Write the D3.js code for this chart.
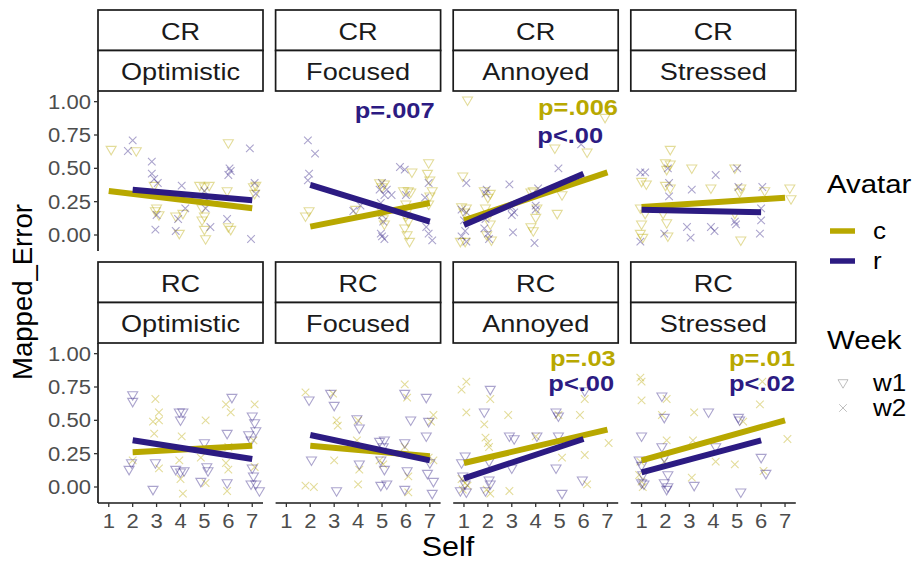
<!DOCTYPE html>
<html>
<head>
<meta charset="utf-8">
<script src="https://cdn.jsdelivr.net/npm/d3@7"></script>
<style>
  body { margin: 0; background: #fff; }
  svg { font-family: "Liberation Sans", Arial, sans-serif; display: block; }
</style>
</head>
<body>
<svg id="chart" width="917" height="564"></svg>
<script>
// facets
var orders = ["CR", "RC"];
var moods = ["Optimistic", "Focused", "Annoyed", "Stressed"];
var avatars = ["c", "r"];
var weeks = ["w1", "w2"];
var xTicks = [1, 2, 3, 4, 5, 6, 7];
var yTicks = [0, 0.25, 0.5, 0.75, 1];

// points [Self, Mapped_Error]
var crOptimisticC = [[1.1,0.64],[2.15,0.63],[2.9,0.37],[3.0,0.2],[3.1,0.15],[2.95,0.18],[3.8,0.14],[3.95,0.01],[4.1,0.16],[4.8,0.37],[5.0,0.36],[5.2,0.37],[4.9,0.2],[5.0,0.14],[4.9,0.11],[5.0,0.04],[5.05,-0.03],[6.0,0.69],[5.95,0.33],[6.0,0.06],[6.1,0.04],[7.05,0.36],[7.15,0.37],[7.1,0.31]];
var crOptimisticR = [[2.0,0.71],[1.8,0.63],[2.8,0.55],[2.8,0.46],[2.9,0.42],[3.05,0.39],[3.0,0.15],[2.95,0.04],[4.05,0.37],[3.8,0.03],[4.2,0.2],[3.9,0.12],[5.0,0.33],[5.1,0.27],[5.05,0.2],[5.25,0.06],[6.05,0.5],[6.1,0.48],[6.0,0.45],[5.95,0.12],[6.9,0.65],[7.1,0.39],[7.15,0.31],[6.95,-0.03]];
var crFocusedC = [[1.8,0.14],[1.95,0.18],[3.9,0.19],[4.9,0.39],[5.0,0.36],[5.1,0.38],[5.0,0.18],[5.05,0.12],[5.1,0.08],[5.9,0.33],[6.1,0.33],[6.2,0.32],[6.0,0.23],[6.1,0.19],[6.0,0.14],[6.1,0.1],[5.95,0.05],[6.05,0.0],[6.15,-0.05],[6.25,0.47],[6.95,0.54],[6.9,0.46],[7.0,0.41],[7.1,0.33],[7.0,0.29],[6.95,0.23]];
var crFocusedR = [[1.9,0.71],[2.2,0.61],[1.95,0.46],[1.9,0.41],[3.8,0.18],[4.1,0.22],[4.9,0.34],[5.0,0.39],[5.1,0.3],[4.95,0.24],[5.0,0.15],[5.05,0.1],[4.95,0.01],[5.0,-0.01],[5.1,-0.03],[5.2,0.34],[5.4,0.3],[5.75,0.51],[5.95,0.49],[6.0,0.3],[6.95,0.39],[6.85,0.06],[6.95,0.01],[7.1,-0.04],[6.8,0.28]];
var crAnnoyedC = [[1.15,1.01],[0.95,0.44],[0.9,0.21],[1.0,0.17],[1.1,0.2],[0.85,-0.05],[1.05,-0.05],[1.85,0.33],[2.1,0.31],[2.0,0.28],[1.9,0.2],[2.05,0.15],[2.1,0.08],[2.15,-0.04],[1.95,0.0],[3.8,0.32],[3.9,0.33],[4.05,0.2],[4.0,0.13],[3.8,0.06],[3.9,0.03],[4.8,0.65],[4.9,0.16],[5.1,0.3],[6.15,0.62],[6.9,0.88]];
var crAnnoyedR = [[1.1,0.39],[0.9,0.19],[1.1,0.17],[1.0,0.11],[1.05,0.03],[1.1,-0.05],[0.9,-0.01],[1.9,0.31],[1.95,0.34],[1.9,0.12],[1.85,0.05],[2.0,0.01],[2.05,-0.03],[2.9,0.38],[3.0,0.15],[3.1,0.17],[3.0,0.21],[3.05,0.02],[4.0,0.22],[4.1,0.35],[4.0,0.19],[3.95,-0.06],[4.95,0.5],[5.9,0.68]];
var crStressedC = [[2.2,0.64],[2.0,0.54],[2.2,0.53],[2.05,0.49],[3.1,0.5],[4.9,0.5],[1.0,0.4],[1.2,0.38],[0.95,0.2],[1.15,0.16],[1.0,0.08],[0.95,0.01],[1.05,-0.02],[2.0,0.37],[2.2,0.35],[1.9,0.16],[2.05,0.09],[2.1,-0.01],[3.9,0.35],[5.15,0.35],[5.1,0.32],[4.9,0.16],[5.15,-0.04],[6.15,0.33],[7.2,0.35],[7.25,0.27]];
var crStressedR = [[0.95,0.47],[1.15,0.47],[0.95,-0.05],[2.1,0.5],[2.15,0.39],[2.15,0.29],[1.95,0.01],[3.1,0.34],[2.9,0.06],[3.05,-0.02],[4.1,0.45],[3.9,0.06],[4.05,0.03],[5.0,0.5],[5.05,0.36],[6.05,0.36],[6.0,0.2],[6.0,0.11],[5.95,0.01],[4.9,0.1],[4.95,0.08]];
var rcOptimisticC = [[2.0,0.2],[2.95,0.66],[3.1,0.56],[3.1,0.5],[2.85,0.49],[2.9,0.4],[3.1,0.14],[4.05,0.38],[3.95,0.2],[4.0,0.06],[4.1,-0.05],[5.05,0.5],[4.85,0.22],[5.05,0.03],[5.9,0.62],[6.1,0.56],[5.9,0.18],[6.0,0.13],[5.95,-0.03],[7.1,0.62],[7.05,0.35],[7.1,0.15],[6.0,0.3]];
var rcOptimisticR = [[2.0,0.69],[2.0,0.64],[1.85,0.13],[1.95,0.18],[2.85,-0.02],[2.95,0.18],[3.95,0.56],[4.1,0.56],[4.0,0.5],[3.8,0.13],[4.0,0.11],[4.15,0.12],[4.85,0.04],[5.0,0.33],[5.1,0.15],[5.15,0.12],[5.95,0.4],[6.15,0.67],[5.95,0.03],[7.0,0.53],[7.1,0.48],[7.15,0.42],[6.85,0.39],[6.95,0.35],[7.0,0.14],[7.05,0.08],[7.15,0.02],[6.95,0.02],[7.3,-0.03]];
var rcFocusedC = [[1.8,0.71],[1.8,0.01],[2.15,0.0],[2.95,0.7],[3.1,0.5],[3.15,0.46],[3.0,0.2],[4.0,0.5],[3.95,0.35],[4.05,0.13],[4.0,0.02],[4.9,0.2],[5.05,0.17],[5.95,0.77],[6.05,0.67],[5.95,0.3],[6.1,0.08],[6.1,-0.04],[7.15,0.54],[7.05,0.49],[7.15,0.2],[6.95,0.22]];
var rcFocusedR = [[1.95,0.65],[2.05,0.2],[2.85,0.7],[3.0,0.61],[3.1,-0.03],[3.95,0.51],[4.05,0.44],[4.05,0.17],[4.9,0.34],[5.1,0.35],[5.05,0.3],[4.95,0.2],[5.1,0.13],[4.95,0.01],[5.2,0.02],[5.95,0.7],[5.95,0.33],[6.05,0.12],[5.95,-0.02],[6.2,0.5],[6.85,0.67],[6.95,0.49],[6.85,0.38],[7.0,0.18],[6.9,0.1],[7.15,0.04],[7.1,-0.05]];
var rcAnnoyedC = [[1.1,0.79],[0.9,0.73],[1.1,0.56],[0.9,0.06],[1.05,0.03],[1.15,0.01],[0.95,-0.02],[2.1,0.66],[1.85,0.47],[1.9,0.37],[2.0,0.33],[2.05,0.3],[1.95,-0.02],[2.1,-0.05],[2.85,0.54],[2.9,-0.03],[4.0,0.38],[4.95,0.54],[5.1,0.22],[5.85,0.54],[6.05,0.66],[6.05,0.24],[6.15,0.02],[7.05,0.33]];
var rcAnnoyedR = [[1.05,0.23],[0.9,0.18],[0.95,0.08],[1.05,0.02],[1.1,-0.04],[0.85,-0.03],[2.1,0.73],[1.85,0.56],[2.05,0.19],[2.05,0.05],[2.1,0.02],[1.9,-0.03],[2.9,0.38],[3.1,0.36],[3.0,0.14],[4.05,0.38],[4.85,0.56],[4.95,0.53],[4.85,0.14],[5.1,-0.05],[4.95,0.38],[5.95,0.05],[6.05,0.72]];
var rcStressedC = [[0.95,0.82],[1.0,0.79],[1.0,0.65],[0.95,0.19],[1.0,0.04],[1.05,0.0],[0.9,0.09],[2.05,0.66],[2.05,0.35],[1.85,0.54],[1.95,0.19],[3.2,0.56],[3.15,0.35],[3.1,0.07],[4.1,0.19],[4.9,0.17],[5.25,0.49],[5.95,0.62],[6.1,0.12],[7.1,0.36],[6.05,0.79]];
var rcStressedR = [[0.9,0.2],[1.0,0.16],[1.05,0.09],[1.0,0.03],[1.1,0.02],[1.0,0.38],[1.85,0.68],[1.95,0.52],[1.85,0.3],[1.95,0.22],[2.1,0.09],[1.95,0.03],[2.1,0.0],[2.05,-0.02],[3.2,0.01],[3.8,0.56],[4.1,0.3],[5.05,0.52],[5.1,0.5],[5.15,-0.04],[6.0,0.22],[6.2,0.1]];

// lm fits per panel: [x1, y1, x2, y2]
var fitC = [[1,0.33,7,0.20],[2,0.063,7,0.24],[1,0.11,7,0.47],[1,0.21,7,0.28],
            [2,0.26,7,0.31],[2,0.31,7,0.23],[1,0.18,7,0.43],[1,0.20,7,0.50]];
var fitR = [[2,0.34,7,0.26],[2,0.376,7,0.10],[1,0.075,6,0.46],[1,0.19,6,0.17],
            [2,0.35,7,0.21],[2,0.39,7,0.20],[1,0.065,6,0.36],[1,0.11,6,0.35]];

// p-value labels: [panel, avatar, text, x, y]
var pLabels = [[1,"r","p=.007",3.86,0.94],
               [2,"c","p=.006",4.1,0.96],[2,"r","p<.00",4.07,0.75],
               [6,"c","p=.03",4.6,0.97],[6,"r","p<.00",4.53,0.78],
               [7,"c","p=.01",4.66,0.97],[7,"r","p<.02",4.66,0.78]];

var pointsC = [crOptimisticC, crFocusedC, crAnnoyedC, crStressedC, rcOptimisticC, rcFocusedC, rcAnnoyedC, rcStressedC];
var pointsR = [crOptimisticR, crFocusedR, crAnnoyedR, crStressedR, rcOptimisticR, rcFocusedR, rcAnnoyedR, rcStressedR];

var colors = {c: "#b8a800", r: "#2c1b82"};
var SX = 1.13; // text in the picture runs a bit wide

var svg = d3.select("#chart");

var panelW = 165, panelH = 160, colStep = 177.6, rowStep = 252;
var left0 = 98, stripTop0 = 10, stripH = 40.5;

var x = d3.scaleLinear().domain([0.55, 7.45]).range([0, panelW]);
var y = d3.scaleLinear().domain([-0.12, 1.08]).range([panelH, 0]);

function stext(sel, px, py, str, size, anchor, extra) {
    var g = sel.append("g").attr("transform", "translate(" + px + "," + py + ") scale(" + SX + ",1)");
    var t = g.append("text")
        .attr("text-anchor", anchor || "middle")
        .attr("dominant-baseline", "central")
        .style("font-size", size + "px")
        .text(str);
    if (extra) extra(t);
    return t;
}

function triDown(cx, cy) {
    return "M" + (cx - 5) + "," + (cy - 3.3) + "L" + (cx + 5) + "," + (cy - 3.3) + "L" + cx + "," + (cy + 5.2) + "Z";
}
function cross(cx, cy) {
    var s = 3.8;
    return "M" + (cx - s) + "," + (cy - s) + "L" + (cx + s) + "," + (cy + s) + "M" + (cx - s) + "," + (cy + s) + "L" + (cx + s) + "," + (cy - s);
}

for (var p = 0; p < 8; p++) {
    var row = Math.floor(p / 4), col = p % 4;
    var order = orders[row];
    var px0 = left0 + col * colStep;
    var stripTop = stripTop0 + row * rowStep;
    var py0 = stripTop + 2 * stripH;

    // strips
    [order, moods[col]].forEach(function(lab, k) {
        svg.append("rect")
            .attr("x", px0).attr("y", stripTop + k * stripH)
            .attr("width", panelW).attr("height", stripH)
            .attr("fill", "#fff").attr("stroke", "#1a1a1a").attr("stroke-width", 1.7);
        stext(svg, px0 + panelW / 2, stripTop + k * stripH + stripH / 2 + 1, lab, 24, "middle",
            function(t) { t.attr("fill", "#1a1a1a"); });
    });

    var g = svg.append("g").attr("transform", "translate(" + px0 + "," + py0 + ")");

    // points: CR -> c in week 1; RC -> c in week 2
    var shapeC = order == "CR" ? triDown : cross;
    var shapeR = order == "CR" ? cross : triDown;
    [["c", pointsC[p], shapeC], ["r", pointsR[p], shapeR]].forEach(function(s) {
        g.append("g").selectAll("path")
            .data(s[1])
            .join("path")
            .attr("d", function(d) { return s[2](x(d[0]), y(d[1])); })
            .attr("fill", "none")
            .attr("stroke", colors[s[0]])
            .attr("stroke-opacity", 0.4)
            .attr("stroke-width", 1.1);
    });

    // fit lines
    [["c", fitC[p]], ["r", fitR[p]]].forEach(function(f) {
        g.append("line")
            .attr("x1", x(f[1][0])).attr("y1", y(f[1][1]))
            .attr("x2", x(f[1][2])).attr("y2", y(f[1][3]))
            .attr("stroke", colors[f[0]])
            .attr("stroke-width", 6);
    });

    // p labels
    pLabels.filter(function(l) { return l[0] == p; }).forEach(function(l) {
        stext(g, x(l[3]), y(l[4]), l[2], 22.5, "start", function(t) {
            t.attr("fill", colors[l[1]]).style("font-weight", "bold");
        });
    });

    // y axis on first column
    if (col == 0) {
        var ya = g.append("g").attr("class", "y-axis axis");
        ya.append("line").attr("x1", 0).attr("x2", 0).attr("y1", 0).attr("y2", panelH)
            .attr("stroke", "#1a1a1a").attr("stroke-width", 1.7);
        yTicks.forEach(function(v) {
            ya.append("line").attr("x1", -4).attr("x2", 0).attr("y1", y(v)).attr("y2", y(v))
                .attr("stroke", "#333").attr("stroke-width", 1.3);
            stext(ya, -7, y(v), d3.format(".2f")(v), 19.5, "end", function(t) { t.attr("fill", "#4d4d4d"); });
        });
    }
    // x axis on bottom row
    if (row == 1) {
        var xa = g.append("g").attr("class", "x-axis axis");
        xa.append("line").attr("x1", 0).attr("x2", panelW).attr("y1", panelH).attr("y2", panelH)
            .attr("stroke", "#1a1a1a").attr("stroke-width", 1.7);
        xTicks.forEach(function(v) {
            xa.append("line").attr("x1", x(v)).attr("x2", x(v)).attr("y1", panelH).attr("y2", panelH + 4)
                .attr("stroke", "#333").attr("stroke-width", 1.3);
            stext(xa, x(v), panelH + 18, v, 19.5, "middle", function(t) { t.attr("fill", "#4d4d4d"); });
        });
    }
}

// axis titles
stext(svg, 448, 547, "Self", 27, "middle");
svg.append("text")
    .attr("transform", "translate(22,292) rotate(-90)")
    .attr("text-anchor", "middle")
    .attr("dominant-baseline", "central")
    .style("font-size", "27.5px")
    .text("Mapped_Error");

// legend
var leg = svg.append("g");
stext(leg, 827, 184, "Avatar", 26, "start");
avatars.forEach(function(a, i) {
    var ly = 231 + i * 30;
    leg.append("line").attr("x1", 830).attr("x2", 855).attr("y1", ly).attr("y2", ly)
        .attr("stroke", colors[a]).attr("stroke-width", 5.5);
    stext(leg, 873, ly, a, 23, "start");
});
stext(leg, 827, 340, "Week", 26, "start");
weeks.forEach(function(w, i) {
    var ly = 383 + i * 25;
    leg.append("path").attr("d", (i == 0 ? triDown : cross)(843, ly))
        .attr("fill", "none").attr("stroke", "#888").attr("stroke-opacity", 0.6).attr("stroke-width", 0.9);
    stext(leg, 873, ly, w, 23, "start");
});
</script>
</body>
</html>
